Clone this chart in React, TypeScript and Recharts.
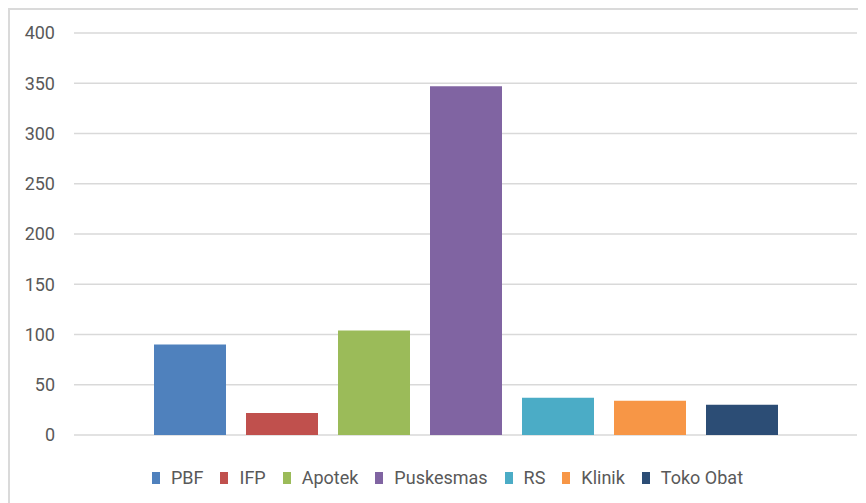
import React from 'react';
import { BarChart, Bar, XAxis, YAxis, CartesianGrid, Legend } from 'recharts';

const seriesNames = ['PBF', 'IFP', 'Apotek', 'Puskesmas', 'RS', 'Klinik', 'Toko Obat'];
const seriesValues = [90, 22, 104, 347, 37, 34, 30];
const seriesColors = ['#4f81bd', '#c0504d', '#9bbb59', '#8064a2', '#4bacc6', '#f79646', '#2c4d75'];
const yTicks = [0, 50, 100, 150, 200, 250, 300, 350, 400];
const categories = [''];

const data = categories.map((c) => {
  const row: Record<string, string | number> = { name: c };
  seriesNames.forEach((n, i) => {
    row[n] = seriesValues[i];
  });
  return row;
});

const LegendContent = () => (
  <div
    style={{
      display: 'flex',
      justifyContent: 'center',
      alignItems: 'center',
      height: 24,
      paddingLeft: 19,
      boxSizing: 'border-box',
      width: 856,
    }}
  >
    {seriesNames.map((n, i) => (
      <div key={n} style={{ display: 'flex', alignItems: 'center', marginRight: i < seriesNames.length - 1 ? 17 : 0 }}>
        <div style={{ width: 8, height: 12, background: seriesColors[i], marginRight: 11 }} />
        <span style={{ fontSize: 18, color: '#595959', lineHeight: '24px' }}>{n}</span>
      </div>
    ))}
  </div>
);

export default function App() {
  return (
    <div
      style={{
        width: 856,
        height: 493,
        borderTop: '2px solid #dadada',
        borderLeft: '2px solid #dadada',
        fontFamily: 'Roboto, sans-serif',
        background: '#fff',
        overflow: 'hidden',
      }}
    >
      <BarChart
        width={856}
        height={493}
        data={data}
        margin={{ top: 23, right: 9, bottom: 68, left: 0 }}
        barSize={72}
        barGap={20}
      >
        <CartesianGrid vertical={false} stroke="#d9d9d9" strokeWidth={1.5} />
        <XAxis dataKey="name" hide />
        <YAxis
          width={64}
          domain={[0, 400]}
          ticks={yTicks}
          axisLine={false}
          tickLine={false}
          tickSize={0}
          tickMargin={19}
          tick={{ fill: '#595959', fontSize: 18, fontFamily: 'Roboto, sans-serif' }}
          interval={0}
        />
        <Legend
          verticalAlign="middle"
          align="center"
          content={<LegendContent />}
          wrapperStyle={{ top: 456, left: 0, width: 856 }}
        />
        {seriesNames.map((n, i) => (
          <Bar key={n} dataKey={n} fill={seriesColors[i]} isAnimationActive={false} />
        ))}
      </BarChart>
    </div>
  );
}
